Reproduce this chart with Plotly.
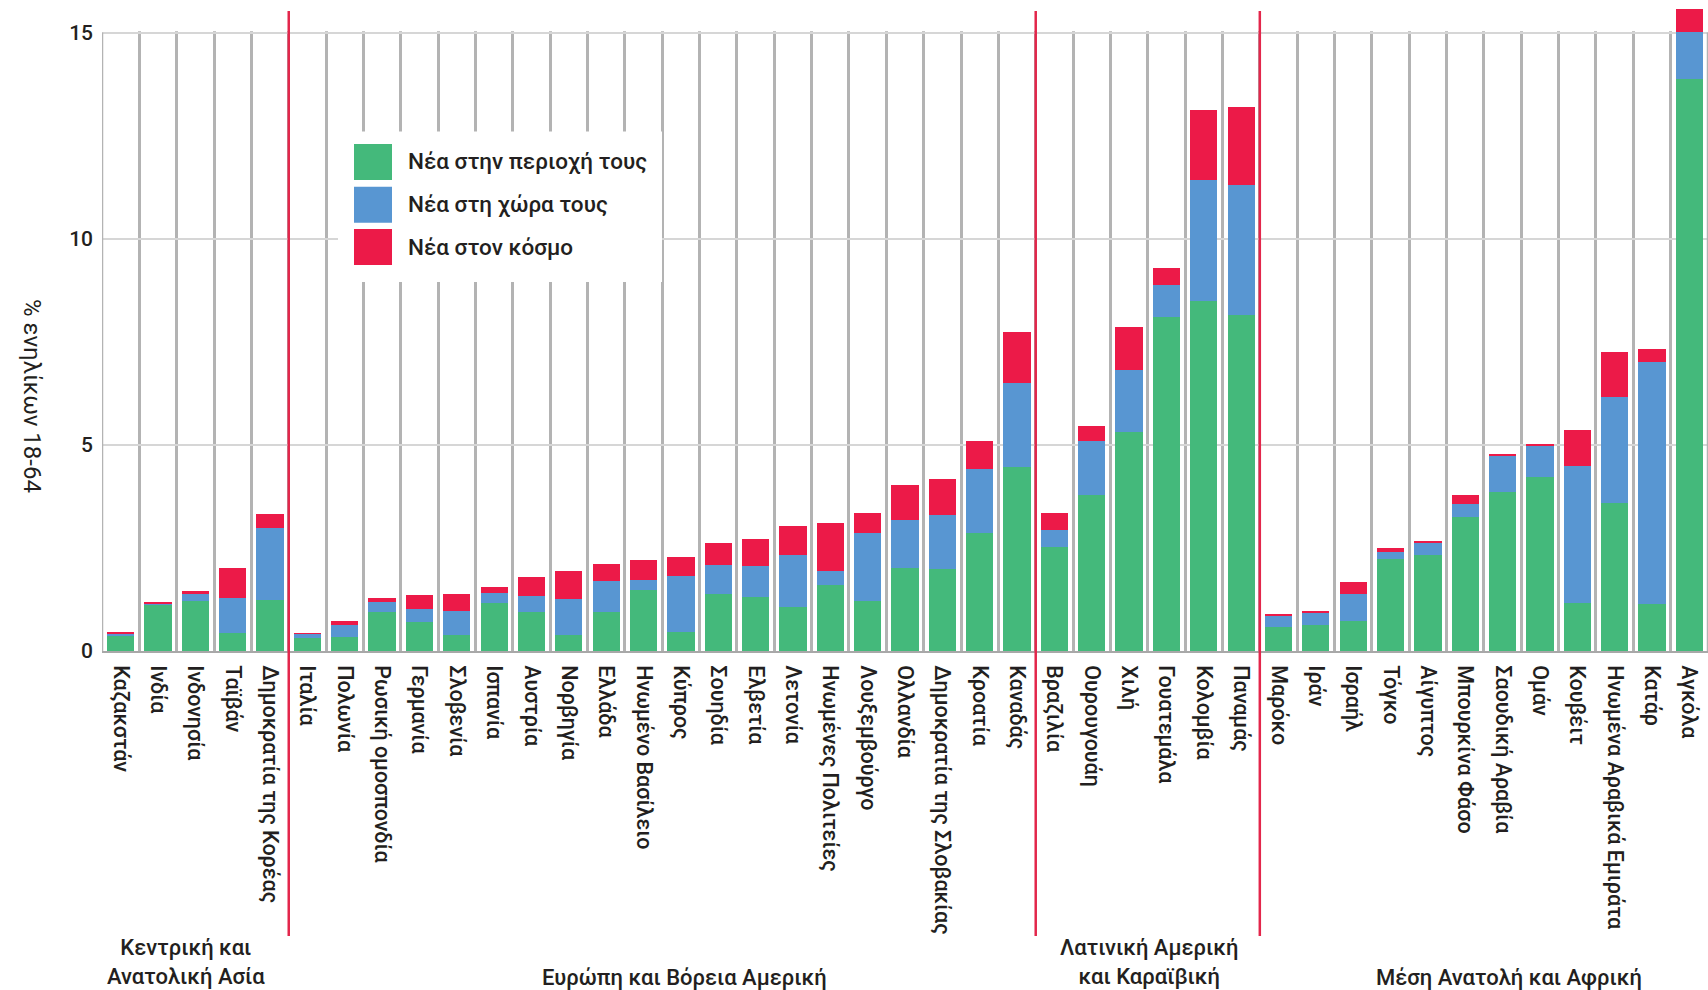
import plotly.graph_objects as go

# ---------------- data ----------------
countries = [
    "Καζακστάν", "Ινδία", "Ινδονησία", "Ταϊβάν", "Δημοκρατία της Κορέας",
    "Ιταλία", "Πολωνία", "Ρωσική ομοσπονδία", "Γερμανία", "Σλοβενία", "Ισπανία",
    "Αυστρία", "Νορβηγία", "Ελλάδα", "Ηνωμένο Βασίλειο", "Κύπρος", "Σουηδία",
    "Ελβετία", "Λετονία", "Ηνωμένες Πολιτείες", "Λουξεμβούργο", "Ολλανδία",
    "Δημοκρατία της Σλοβακίας", "Κροατία", "Καναδάς",
    "Βραζιλία", "Ουρουγουάη", "Χιλή", "Γουατεμάλα", "Κολομβία", "Παναμάς",
    "Μαρόκο", "Ιράν", "Ισραήλ", "Τόγκο", "Αίγυπτος", "Μπουρκίνα Φάσο",
    "Σαουδική Αραβία", "Ομάν", "Κουβέιτ", "Ηνωμένα Αραβικά Εμιράτα", "Κατάρ", "Αγκόλα",
]

new_local = [
    0.36, 1.12, 1.21, 0.44, 1.24,
    0.32, 0.35, 0.95, 0.71, 0.40, 1.16, 0.94, 0.39, 0.94, 1.49, 0.46, 1.39,
    1.30, 1.07, 1.60, 1.21, 2.02, 1.99, 2.85, 4.46,
    2.52, 3.79, 5.30, 8.09, 8.49, 8.15,
    0.58, 0.64, 0.73, 2.22, 2.33, 3.25, 3.85, 4.23, 1.17, 3.58, 1.14, 13.88,
]
new_country = [
    0.06, 0.03, 0.17, 0.85, 1.74,
    0.10, 0.29, 0.23, 0.32, 0.56, 0.25, 0.39, 0.87, 0.75, 0.22, 1.37, 0.69,
    0.76, 1.25, 0.35, 1.66, 1.15, 1.32, 1.56, 2.05,
    0.42, 1.30, 1.51, 0.78, 2.93, 3.14,
    0.28, 0.27, 0.65, 0.18, 0.31, 0.31, 0.88, 0.76, 3.32, 2.58, 5.86, 1.14,
]
new_world = [
    0.05, 0.04, 0.07, 0.72, 0.35,
    0.01, 0.09, 0.10, 0.34, 0.42, 0.14, 0.47, 0.67, 0.43, 0.49, 0.46, 0.54,
    0.65, 0.72, 1.15, 0.47, 0.86, 0.85, 0.69, 1.23,
    0.40, 0.36, 1.04, 0.42, 1.69, 1.90,
    0.04, 0.05, 0.30, 0.11, 0.02, 0.23, 0.05, 0.04, 0.88, 1.09, 0.33, 0.55,
]

series_names = ["Νέα στην περιοχή τους", "Νέα στη χώρα τους", "Νέα στον κόσμο"]
series_colors = ["#44b97b", "#5896d2", "#ec1a48"]

groups = ["Κεντρική και<br>Ανατολική Ασία", "Ευρώπη και Βόρεια Αμερική",
          "Λατινική Αμερική<br>και Καραϊβική", "Μέση Ανατολή και Αφρική"]
group_sizes = [5, 20, 6, 12]

y_title = "% ενηλίκων 18-64"
y_ticks = [0, 5, 10, 15]
y_grid_top = 15
y_range_top = 15.57

# ---------------- geometry helpers (pixel -> paper) ----------------
W, H = 1708, 990
ML, MR, MT, MB = 102, 0, 9, 339
PW, PH = W - ML - MR, H - MT - MB


def px(x):
    return (x - ML) / PW


def py(y):
    return (H - MB - y) / PH


FONT = "Roboto, 'Open Sans', 'Noto Sans', sans-serif"
TXT = "#231f20"
WEIGHT = 500

fig = go.Figure()
for name, vals, col in zip(series_names, [new_local, new_country, new_world], series_colors):
    fig.add_trace(go.Bar(
        x=countries, y=vals, name=name, marker=dict(color=col, line=dict(width=0)),
    ))

shapes = []
annotations = []
n_cat = len(countries)

# hide vertical grid above the top gridline (between grid and traces)
shapes.append(dict(type="rect", xref="x", yref="y", x0=-0.6, x1=n_cat - 0.4,
                   y0=y_grid_top + 0.03, y1=y_range_top + 1, fillcolor="white",
                   line=dict(width=0), layer="between"))
# plot edge lines
for xb in (-0.5, n_cat - 0.5):
    shapes.append(dict(type="line", xref="x", yref="y", x0=xb, x1=xb, y0=0, y1=y_grid_top,
                       line=dict(color="#b3b3b3", width=2.5), layer="between"))

# red dividers between regions
bound = -0.5
for n in group_sizes[:-1]:
    bound += n
    shapes.append(dict(type="line", xref="x", yref="paper", x0=bound, x1=bound,
                       y0=py(936), y1=py(11), line=dict(color="#e3264b", width=2.5),
                       layer="above"))

# region labels
group_x = [185.5, 684, 1149, 1509]
group_y = [962, 977, 962, 977]
for g, gx, gy in zip(groups, group_x, group_y):
    annotations.append(dict(text=g, xref="paper", yref="paper", x=px(gx), y=py(gy),
                            xanchor="center", yanchor="middle", showarrow=False,
                            font=dict(size=22, color=TXT, family=FONT, weight=WEIGHT)))

# y axis title (reads top to bottom)
annotations.append(dict(text=y_title, xref="paper", yref="paper", x=px(32), y=py(396),
                        xanchor="center", yanchor="middle", showarrow=False, textangle=90,
                        font=dict(size=24, color=TXT, family=FONT, weight=400)))

# legend box
shapes.append(dict(type="rect", xref="paper", yref="paper", x0=px(338), x1=px(662),
                   y0=py(282), y1=py(131.5), fillcolor="white", line=dict(width=0),
                   layer="above"))
row_top = [144, 186.7, 229]
for name, col, top in zip(series_names, series_colors, row_top):
    shapes.append(dict(type="rect", xref="paper", yref="paper", x0=px(354), x1=px(392),
                       y0=py(top + 36), y1=py(top), fillcolor=col, line=dict(width=0),
                       layer="above"))
    annotations.append(dict(text=name, xref="paper", yref="paper", x=px(406), y=py(top + 18),
                            xanchor="left", yanchor="middle", showarrow=False,
                            font=dict(size=22.5, color=TXT, family=FONT, weight=WEIGHT)))

fig.update_layout(
    width=W, height=H,
    margin=dict(l=ML, r=MR, t=MT, b=MB, pad=0),
    barmode="stack", bargap=0.27,
    showlegend=False,
    plot_bgcolor="white", paper_bgcolor="white",
    font=dict(family=FONT, color=TXT),
    shapes=shapes, annotations=annotations,
    xaxis=dict(
        type="category", tickangle=90, tickson="boundaries",
        showgrid=True, gridcolor="#b3b3b3", gridwidth=2.5,
        showline=True, linecolor="#a8a8a8", linewidth=2,
        ticks="", ticklabelstandoff=8,
        tickfont=dict(size=21.5, color=TXT, family=FONT, weight=WEIGHT),
        range=[-0.5, n_cat - 0.5],
    ),
    yaxis=dict(
        range=[0, y_range_top], tickvals=y_ticks, ticktext=[str(v) for v in y_ticks],
        showgrid=True, gridcolor="#d6d6d6", gridwidth=1.5,
        zeroline=False, showline=False, ticks="", ticklabelstandoff=8,
        tickfont=dict(size=21, color=TXT, family=FONT, weight=WEIGHT),
    ),
)

fig.write_html("out.html", config={"displayModeBar": False},
               post_script="document.body.style.margin='0';document.body.style.overflow='hidden';")
